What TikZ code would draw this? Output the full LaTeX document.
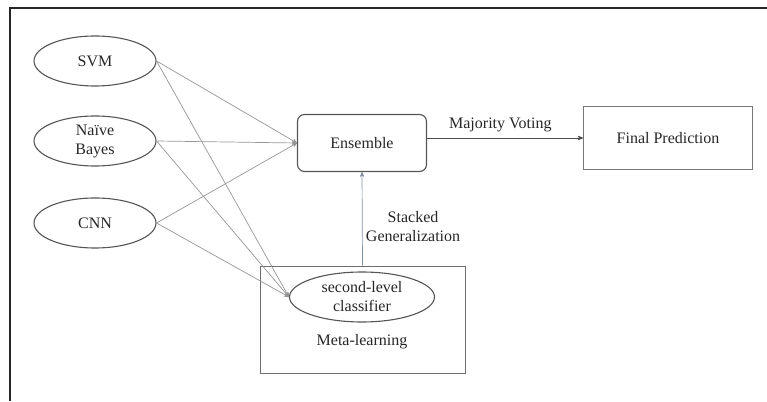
\documentclass[tikz,border=0pt]{standalone}
\usepackage{fontspec}
\setmainfont{Liberation Serif}
\usetikzlibrary{arrows,shapes.geometric}
\definecolor{linkgray}{RGB}{150,150,150}
\definecolor{edgegray}{RGB}{85,85,85}
\definecolor{stackblue}{RGB}{130,145,165}

\begin{document}
\begin{tikzpicture}[x=1pt,y=1pt,>=stealth',node distance=80pt,
	every node/.style={font=\fontsize{16}{19}\selectfont,text=black!85},
	model/.style={ellipse,draw=edgegray,line width=1.1pt,minimum width=122pt,
		minimum height=50pt,inner sep=0pt,align=center},
	ensbox/.style={rectangle,rounded corners=7pt,draw=edgegray,line width=1.1pt,
		minimum width=129pt,minimum height=57pt},
	outbox/.style={rectangle,draw=edgegray!80,line width=1pt,
		minimum width=169pt,minimum height=63pt},
	metabox/.style={rectangle,draw=edgegray!85,line width=0.9pt,
		minimum width=205pt,minimum height=107pt},
	link/.style={->,draw=linkgray,line width=0.7pt}]
	\useasboundingbox (0,0) rectangle (767,401);
	\draw[line width=1.4pt,black!85] (10,0) -- (10,393) -- (767,393);
	
	\node[model](svm) at (95,340){SVM};
	\node[model](nb)[below of=svm]{Naïve\\Bayes};
	\node[model](cnn)[below of=nb,node distance=82pt]{CNN};
	
	\node[ensbox](ens) at (362,258){Ensemble};
	\node[outbox](fin) at (668,263){Final Prediction};
	
	\node[metabox](meta) at (362.5,81.5){};
	\node[model,minimum width=145pt](clf) at (362,104){second-level\\classifier};
	\node(metalbl) at (362,59){Meta-learning};
	
	\path (svm.east) edge[link] (ens.west)
			  edge[link] (clf.west)
		  (nb.east)  edge[link] (ens.west)
			  edge[link] (clf.west)
		  (cnn.east) edge[link] (ens.west)
			  edge[link] (clf.west);
	
	\draw[->,line width=0.8pt,black!70] (ens.east |- fin.west) -- (fin.west)
		node[pos=0.47,above=2pt]{Majority Voting};
	\draw[->,line width=0.7pt,stackblue] (meta.north) -- (ens.south)
		node[pos=0.42,right,align=center]{Stacked\\Generalization};
\end{tikzpicture}
\end{document}
